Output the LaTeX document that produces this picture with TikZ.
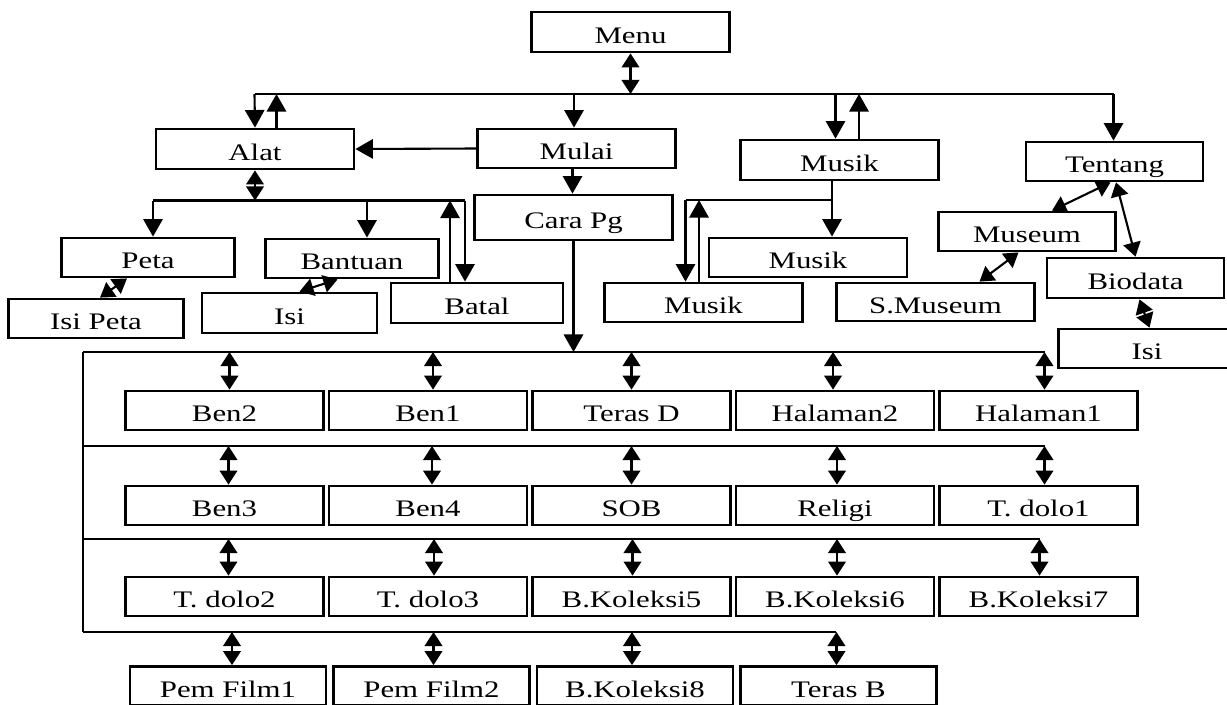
\documentclass[tikz,border=0pt]{standalone}
\usepackage{fontspec}
\setmainfont{Liberation Serif}[FakeStretch=1.3]
\usetikzlibrary{positioning}
\usetikzlibrary{arrows.meta}

\begin{document}
\begin{tikzpicture}[x=0.02cm,y=-0.02cm,
    f/.style={-{Triangle[length=10pt,width=11pt]},line width=1.2pt},%
    ff/.style={{Triangle[length=8pt,width=10pt]}-{Triangle[length=8pt,width=10pt]},line width=1.2pt},%
    l/.style={line width=1.2pt},%
    s/.style={draw,line width=1.6pt,inner sep=0pt,minimum width=3.96cm,minimum height=0.78cm,
      text height=14pt,text depth=1.2pt,font=\fontsize{13.5}{15}\selectfont}]
    \useasboundingbox (0,0) rectangle (1227,704);
    % menu et premier niveau
    \node[s,minimum height=0.8cm] (menu) at (630.5,32) {Menu} ;
    \node[s,minimum height=0.8cm] (alat) at (255,149) {Alat} ;
    \node[s] (mulai) at (576.5,148.5) {Mulai} ;
    \node[s,minimum height=0.8cm] (musik) at (839.5,160) {Musik} ;
    \node[s,minimum width=3.54cm] (tentang) at (1114.5,161.5) {Tentang} ;
    \node[s,minimum height=0.9cm] (carapg) at (573.5,217.5) {Cara Pg} ;
    % sous alat
    \node[s,minimum width=3.46cm] (peta) at (148,257.5) {Peta} ;
    \node[s,minimum width=3.46cm] (bantuan) at (352,258.5) {Bantuan} ;
    \node[s,minimum width=3.44cm,minimum height=0.8cm] (batal) at (477,303) {Batal} ;
    \node[s,minimum width=3.5cm] (isipeta) at (96,318.5) {Isi Peta} ;
    \node[s,minimum width=3.5cm,minimum height=0.8cm] (isia) at (289.5,313) {Isi} ;
    % sous musik et tentang
    \node[s] (musikb) at (808,257.5) {Musik} ;
    \node[s] (musika) at (703.5,302.5) {Musik} ;
    \node[s,minimum height=0.76cm] (smuseum) at (935.5,302) {S.Museum} ;
    \node[s,minimum width=3.54cm] (museum) at (1027,231.5) {Museum} ;
    \node[s,minimum width=3.54cm,minimum height=0.8cm] (biodata) at (1135.5,278) {Biodata} ;
    \node[s,minimum width=3.54cm] (isib) at (1147,348.5) {Isi} ;
    % grille
    \foreach \n/\t [count=\i] in {ben2/Ben2,ben1/Ben1,terasd/Teras D,hal2/Halaman2,hal1/Halaman1}
      \node[s] (\n) at ({224.5+203.5*(\i-1)},410.5) {\t} ;
    \foreach \n/\t [count=\i] in {ben3/Ben3,ben4/Ben4,sob/SOB,religi/Religi,tdolo1/T. dolo1}
      \node[s] (\n) at ({224.5+203.5*(\i-1)},505.5) {\t} ;
    \foreach \n/\t [count=\i] in {tdolo2/T. dolo2,tdolo3/T. dolo3,bk5/B.Koleksi5,bk6/B.Koleksi6,bk7/B.Koleksi7}
      \node[s] (\n) at ({224.5+203.5*(\i-1)},596.5) {\t} ;
    \foreach \n/\t [count=\i] in {film1/Pem Film1,film2/Pem Film2,bk8/B.Koleksi8,terasb/Teras B}
      \node[s,minimum width=3.92cm] (\n) at ({228+203.5*(\i-1)},686) {\t} ;

    % lignes
    \coordinate (t0) at (254.5,94);
    \coordinate (t1) at (1113.5,94);
    \coordinate (s0) at (153,200.5);
    \coordinate (s1) at (465,200.5);
    \coordinate (m0) at (685.5,200);
    \coordinate (b1) at (83,352);
    \coordinate (b2) at (83,446);
    \coordinate (b3) at (83,539);
    \coordinate (b4) at (83,632);
    \coordinate (e1) at (1045,352);
    \coordinate (e2) at (1045,446);
    \coordinate (e3) at (1040,539);
    \coordinate (e4) at (836,632);
    \draw[l] (t0) -- (t1);
    \draw[l] (s0) -- (s1);
    \draw[l] (b1) -- (b4);
    \draw[l] (b1) -- (e1);
    \draw[l] (b2) -- (e2);
    \draw[l] (b3) -- (e3);
    \draw[l] (b4) -- (e4);

    \draw[ff] (menu.south) -- (menu.south |- t0);
    \draw[f] (t0) -- (alat.north);
    \draw[f] ([xshift=.43cm]alat.north) -- ([xshift=.43cm]alat.north |- t0);
    \draw[f] ([xshift=-.05cm]mulai.north |- t0) -- ([xshift=-.05cm]mulai.north);
    \draw[f] ([xshift=-.08cm]musik.north |- t0) -- ([xshift=-.08cm]musik.north);
    \draw[f] ([xshift=.39cm]musik.north) -- ([xshift=.39cm]musik.north |- t0);
    \draw[f] (t1) -- (t1 |- tentang.north);
    \draw[f] (mulai.west) -- (alat.east);
    \draw[f] ([xshift=-.08cm]mulai.south) -- ([xshift=-.08cm]mulai.south |- carapg.north);
    \draw[f] (carapg.south) -- (carapg.south |- b1);

    \draw[ff] (alat.south) -- (alat.south |- s0);
    \draw[f] (s0) -- (s0 |- peta.north);
    \draw[f] ([xshift=.3cm]bantuan.north |- s0) -- ([xshift=.3cm]bantuan.north);
    \draw[f] (s1) -- (s1 |- batal.north);
    \draw[f] ([xshift=-.54cm]batal.north) -- ([xshift=-.54cm]batal.north |- s0);
    \draw[ff] ([xshift=-.42cm]peta.south) -- ([xshift=.08cm]isipeta.north);
    \draw[ff] ([xshift=-.29cm]bantuan.south) -- ([xshift=.2cm]isia.north);

    \draw[l] ([xshift=-.15cm]musik.south |- m0) -- (m0);
    \draw[f] ([xshift=-.15cm]musik.south) -- ([xshift=-.15cm]musik.south |- musikb.north);
    \draw[f] (m0) -- (m0 |- musika.north);
    \draw[f] ([xshift=-.09cm]musika.north) -- ([xshift=-.09cm]musika.north |- m0);

    \draw[ff] ([xshift=-.08cm]tentang.south) -- ([xshift=.5cm]museum.north);
    \draw[ff] ([xshift=.03cm]tentang.south) -- (biodata.north);
    \draw[ff] ([xshift=-.17cm]museum.south) -- ([xshift=.88cm]smuseum.north);
    \draw[ff] ([xshift=.08cm]biodata.south) -- ([xshift=.05cm]isib.north);

    \foreach \n/\dx in {ben2/5,ben1/5,terasd/0,hal2/-2,hal1/6}
      \draw[ff] ([xshift=\dx*0.02cm]\n.north |- b1) -- ([xshift=\dx*0.02cm]\n.north);
    \foreach \n/\dx in {ben3/4,ben4/4,sob/0,religi/2,tdolo1/6}
      \draw[ff] ([xshift=\dx*0.02cm]\n.north |- b2) -- ([xshift=\dx*0.02cm]\n.north);
    \foreach \n/\dx in {tdolo2/4,tdolo3/6,bk5/1,bk6/2,bk7/1}
      \draw[ff] ([xshift=\dx*0.02cm]\n.north |- b3) -- ([xshift=\dx*0.02cm]\n.north);
    \foreach \n/\dx in {film1/4,film2/2,bk8/-3,terasb/-2}
      \draw[ff] ([xshift=\dx*0.02cm]\n.north |- b4) -- ([xshift=\dx*0.02cm]\n.north);
\end{tikzpicture}
\end{document}
